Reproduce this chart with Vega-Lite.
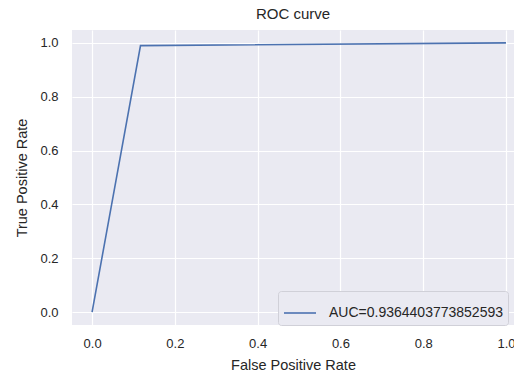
{
  "$schema": "https://vega.github.io/schema/vega-lite/v6.json",
  "width": 442,
  "height": 295,
  "autosize": {"type": "none"},
  "padding": {"left": 72, "top": 30, "right": 0, "bottom": 46},
  "background": "white",
  "title": {"text": "ROC curve", "font": "Liberation Sans", "fontSize": 15, "fontWeight": "normal", "color": "#262626", "offset": 8, "anchor": "middle"},
  "config": {
    "view": {"fill": "#EAEAF2", "stroke": null},
    "axis": {"font": "Liberation Sans", "labelFont": "Liberation Sans", "titleFont": "Liberation Sans", "labelColor": "#262626", "titleColor": "#262626", "labelFontSize": 13, "titleFontSize": 14.5, "titleFontWeight": "normal", "domain": false, "ticks": false, "gridColor": "white", "gridWidth": 1.2, "gridOpacity": 1}
  },
  "data": {"values": [
    {"fpr": 0, "tpr": 0, "label": "AUC=0.9364403773852593"},
    {"fpr": 0.117, "tpr": 0.98988, "label": "AUC=0.9364403773852593"},
    {"fpr": 1, "tpr": 1, "label": "AUC=0.9364403773852593"}
  ]},
  "mark": {"type": "line", "strokeWidth": 1.6, "clip": true},
  "encoding": {
    "x": {"field": "fpr", "type": "quantitative", "title": "False Positive Rate",
      "scale": {"domain": [-0.0485, 1.0194], "nice": false, "zero": false},
      "axis": {"values": [0, 0.2, 0.4, 0.6, 0.8, 1.0], "format": ".1f", "labelPadding": 12, "titlePadding": 8, "labelFlush": false}},
    "y": {"field": "tpr", "type": "quantitative", "title": "True Positive Rate",
      "scale": {"domain": [-0.048, 1.048], "nice": false, "zero": false},
      "axis": {"values": [0, 0.2, 0.4, 0.6, 0.8, 1.0], "format": ".1f", "labelPadding": 14, "titlePadding": 10}},
    "color": {"field": "label", "type": "nominal", "scale": {"range": ["#4C72B0"]},
      "legend": {"title": null, "orient": "none", "legendX": 206, "legendY": 261, "symbolType": "stroke", "symbolSize": 1024, "symbolStrokeWidth": 1.6, "labelFont": "Liberation Sans", "labelFontSize": 14, "labelColor": "#262626", "fillColor": "#EAEAF2", "strokeColor": "#d0d0d8", "cornerRadius": 3, "padding": 5, "labelOffset": 12, "labelLimit": 400}}
  }
}
